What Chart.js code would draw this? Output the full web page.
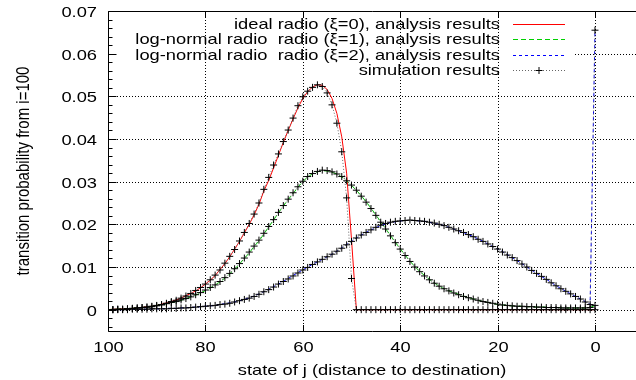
<!DOCTYPE html>
<html>
<head>
<meta charset="utf-8">
<script src="https://cdn.jsdelivr.net/npm/chart.js@4.4.1/dist/chart.umd.min.js"></script>
<style>
	html, body { margin: 0; padding: 0; overflow: hidden; background: #fff; }
	canvas { display: block; }
</style>
</head>
<body>
<canvas id="chart" width="636" height="380"></canvas>
<script>
'use strict'

// state j, from 100 down to 0
const states = [
	100, 99, 98, 97, 96, 95, 94, 93, 92, 91,
	90, 89, 88, 87, 86, 85, 84, 83, 82, 81,
	80, 79, 78, 77, 76, 75, 74, 73, 72, 71,
	70, 69, 68, 67, 66, 65, 64, 63, 62, 61,
	60, 59, 58, 57, 56, 55, 54, 53, 52, 51,
	50, 49, 48, 47, 46, 45, 44, 43, 42, 41,
	40, 39, 38, 37, 36, 35, 34, 33, 32, 31,
	30, 29, 28, 27, 26, 25, 24, 23, 22, 21,
	20, 19, 18, 17, 16, 15, 14, 13, 12, 11,
	10, 9, 8, 7, 6, 5, 4, 3, 2, 1,
	0,
]

// analysis results
const idealRadio = [
	0.0000, 0.0001, 0.0001, 0.0002, 0.0002, 0.0003, 0.0004, 0.0005, 0.0007, 0.0008,
	0.0010, 0.0013, 0.0016, 0.0019, 0.0023, 0.0027, 0.0033, 0.0038, 0.0044, 0.0051,
	0.0060, 0.0069, 0.0080, 0.0094, 0.0108, 0.0124, 0.0142, 0.0160, 0.0180, 0.0200,
	0.0222, 0.0247, 0.0278, 0.0303, 0.0332, 0.0362, 0.0392, 0.0420, 0.0447, 0.0473,
	0.0495, 0.0511, 0.0522, 0.0527, 0.0526, 0.0516, 0.0495, 0.0460, 0.0405, 0.0320,
	0.0165, 0, 0, 0, 0, 0, 0, 0, 0, 0,
	0, 0, 0, 0, 0, 0, 0, 0, 0, 0,
	0, 0, 0, 0, 0, 0, 0, 0, 0, 0,
	0, 0, 0, 0, 0, 0, 0, 0, 0, 0,
	0, 0, 0, 0, 0, 0, 0, 0, 0, 0,
	0,
]

const logNormal1 = [
	0.0000, 0.0001, 0.0001, 0.0002, 0.0002, 0.0003, 0.0004, 0.0005, 0.0006, 0.0008,
	0.0010, 0.0012, 0.0014, 0.0016, 0.0019, 0.0022, 0.0026, 0.0030, 0.0034, 0.0039,
	0.0045, 0.0051, 0.0058, 0.0065, 0.0074, 0.0084, 0.0095, 0.0107, 0.0120, 0.0133,
	0.0148, 0.0161, 0.0177, 0.0194, 0.0210, 0.0227, 0.0243, 0.0258, 0.0272, 0.0287,
	0.0300, 0.0311, 0.0318, 0.0323, 0.0326, 0.0325, 0.0322, 0.0318, 0.0311, 0.0302,
	0.0291, 0.0280, 0.0267, 0.0253, 0.0238, 0.0222, 0.0206, 0.0190, 0.0174, 0.0158,
	0.0143, 0.0128, 0.0114, 0.0101, 0.0090, 0.0080, 0.0071, 0.0063, 0.0055, 0.0049,
	0.0044, 0.0040, 0.0036, 0.0032, 0.0028, 0.0025, 0.0022, 0.0019, 0.0017, 0.0015,
	0.0012, 0.0011, 0.0010, 0.0009, 0.0008, 0.0008, 0.0007, 0.0007, 0.0006, 0.0006,
	0.0006, 0.0005, 0.0005, 0.0005, 0.0004, 0.0004, 0.0004, 0.0004, 0.0004, 0.0005,
	0.0010,
]

const logNormal2 = [
	0.0000, 0.0000, 0.0000, 0.0000, 0.0001, 0.0001, 0.0001, 0.0001, 0.0001, 0.0002,
	0.0002, 0.0002, 0.0003, 0.0003, 0.0003, 0.0004, 0.0005, 0.0005, 0.0006, 0.0007,
	0.0008, 0.0009, 0.0010, 0.0012, 0.0014, 0.0016, 0.0018, 0.0021, 0.0024, 0.0028,
	0.0032, 0.0037, 0.0042, 0.0048, 0.0054, 0.0060, 0.0066, 0.0073, 0.0080, 0.0087,
	0.0093, 0.0100, 0.0106, 0.0112, 0.0118, 0.0124, 0.0130, 0.0137, 0.0145, 0.0153,
	0.0161, 0.0168, 0.0175, 0.0181, 0.0187, 0.0192, 0.0197, 0.0201, 0.0204, 0.0206,
	0.0208, 0.0209, 0.0209, 0.0209, 0.0208, 0.0207, 0.0205, 0.0202, 0.0200, 0.0197,
	0.0193, 0.0189, 0.0185, 0.0181, 0.0176, 0.0171, 0.0166, 0.0160, 0.0154, 0.0148,
	0.0142, 0.0136, 0.0129, 0.0122, 0.0115, 0.0108, 0.0100, 0.0093, 0.0085, 0.0078,
	0.0071, 0.0064, 0.0056, 0.0050, 0.0043, 0.0037, 0.0031, 0.0025, 0.0019, 0.0012,
	0.0655,
]

// simulation results
const simIdeal = [
	0.0000, 0.0000, 0.0001, 0.0001, 0.0002, 0.0003, 0.0004, 0.0005, 0.0006, 0.0008,
	0.0010, 0.0012, 0.0015, 0.0019, 0.0022, 0.0027, 0.0032, 0.0038, 0.0045, 0.0052,
	0.0060, 0.0070, 0.0081, 0.0093, 0.0109, 0.0125, 0.0141, 0.0161, 0.0181, 0.0202,
	0.0224, 0.0250, 0.0282, 0.0310, 0.0339, 0.0365, 0.0394, 0.0421, 0.0449, 0.0478,
	0.0499, 0.0512, 0.0521, 0.0527, 0.0523, 0.0508, 0.0480, 0.0437, 0.0370, 0.0262,
	0.0073, 0, 0, 0, 0, 0, 0, 0, 0, 0,
	0, 0, 0, 0, 0, 0, 0, 0, 0, 0,
	0, 0, 0, 0, 0, 0, 0, 0, 0, 0,
	0, 0, 0, 0, 0, 0, 0, 0, 0, 0,
	0, 0, 0, 0, 0, 0, 0, 0, 0, 0,
	0,
]

const simLogNormal1 = [
	0.0000, 0.0000, 0.0001, 0.0001, 0.0002, 0.0003, 0.0004, 0.0005, 0.0006, 0.0007,
	0.0009, 0.0011, 0.0014, 0.0017, 0.0019, 0.0023, 0.0026, 0.0030, 0.0035, 0.0040,
	0.0046, 0.0052, 0.0058, 0.0066, 0.0075, 0.0085, 0.0096, 0.0108, 0.0121, 0.0135,
	0.0149, 0.0163, 0.0179, 0.0195, 0.0211, 0.0228, 0.0244, 0.0259, 0.0274, 0.0288,
	0.0301, 0.0312, 0.0319, 0.0324, 0.0327, 0.0326, 0.0323, 0.0318, 0.0312, 0.0302,
	0.0292, 0.0280, 0.0266, 0.0252, 0.0237, 0.0221, 0.0205, 0.0189, 0.0173, 0.0157,
	0.0142, 0.0127, 0.0113, 0.0100, 0.0089, 0.0079, 0.0070, 0.0062, 0.0055, 0.0049,
	0.0044, 0.0039, 0.0035, 0.0031, 0.0028, 0.0025, 0.0022, 0.0019, 0.0017, 0.0015,
	0.0013, 0.0011, 0.0010, 0.0009, 0.0008, 0.0008, 0.0007, 0.0007, 0.0006, 0.0006,
	0.0005, 0.0005, 0.0005, 0.0004, 0.0004, 0.0004, 0.0004, 0.0004, 0.0004, 0.0005,
	0.0010,
]

const simLogNormal2 = [
	0.0000, 0.0000, 0.0000, 0.0000, 0.0000, 0.0001, 0.0001, 0.0001, 0.0001, 0.0002,
	0.0002, 0.0002, 0.0002, 0.0003, 0.0003, 0.0004, 0.0004, 0.0005, 0.0006, 0.0007,
	0.0008, 0.0009, 0.0010, 0.0012, 0.0013, 0.0015, 0.0018, 0.0021, 0.0024, 0.0027,
	0.0031, 0.0036, 0.0042, 0.0047, 0.0053, 0.0060, 0.0066, 0.0072, 0.0079, 0.0086,
	0.0093, 0.0099, 0.0106, 0.0112, 0.0118, 0.0124, 0.0130, 0.0137, 0.0144, 0.0152,
	0.0160, 0.0168, 0.0175, 0.0181, 0.0187, 0.0193, 0.0198, 0.0202, 0.0205, 0.0207,
	0.0208, 0.0209, 0.0210, 0.0209, 0.0208, 0.0207, 0.0205, 0.0203, 0.0200, 0.0197,
	0.0193, 0.0189, 0.0185, 0.0181, 0.0176, 0.0171, 0.0165, 0.0160, 0.0154, 0.0148,
	0.0142, 0.0135, 0.0128, 0.0122, 0.0115, 0.0107, 0.0100, 0.0092, 0.0085, 0.0078,
	0.0071, 0.0063, 0.0056, 0.0049, 0.0043, 0.0037, 0.0031, 0.0025, 0.0018, 0.0012,
	0.0655,
]

const xTicks = [100, 80, 60, 40, 20, 0]
const xTickLabels = ['100', '80', '60', '40', '20', '0']
const yTicks = [0, 0.01, 0.02, 0.03, 0.04, 0.05, 0.06, 0.07]
const yTickLabels = ['0', '0.01', '0.02', '0.03', '0.04', '0.05', '0.06', '0.07']
const yMinorPerMajor = 5

const xTitle = 'state of j (distance to destination)'
const yTitle = 'transition probability from i=100'
const labels = [
	'ideal radio (ξ=0), analysis results',
	'log-normal radio  radio (ξ=1), analysis results',
	'log-normal radio  radio (ξ=2), analysis results',
	'simulation results',
]

const COLORS = ['#ff0000', '#00d000', '#0000ff', '#000000']
const DASHES = [[], [5, 3], [3, 3], [1, 2]]
const SX = 1.22
const FONT = '15px "Liberation Sans", Arial, sans-serif'
const KEY = { textRight: 500, sampleLeft: 513, sampleRight: 565, firstBase: 29.3, step: 15.1, top: 16, bottom: 78, right: 575 }

function toPoints(series) {
	return series.map((v, i) => ({ x: states[i], y: v }))
}

function line(ctx, x1, y1, x2, y2) {
	ctx.beginPath()
	ctx.moveTo(x1, y1)
	ctx.lineTo(x2, y2)
	ctx.stroke()
}

function stretchText(ctx, text, x, y, align, rotate) {
	ctx.save()
	ctx.translate(x, y)
	ctx.scale(SX, 1)
	if (rotate) ctx.rotate(-Math.PI / 2)
	ctx.font = FONT
	ctx.fillStyle = '#000'
	ctx.textAlign = align
	ctx.textBaseline = 'alphabetic'
	ctx.fillText(text, 0, 0)
	ctx.restore()
}

const simPoints = [simIdeal, simLogNormal1, simLogNormal2]
	.map(toPoints)
	.reduce((all, pts, i) => (i ? all.concat([{ x: 0, y: null }], pts) : pts), [])

const gnuFrame = {
	id: 'gnuFrame',
	beforeDatasetsDraw(chart) {
		const { ctx, chartArea: a, scales: { x, y } } = chart
		ctx.save()
		ctx.strokeStyle = '#000'
		ctx.lineWidth = 1
		ctx.setLineDash([1, 2])
		xTicks.forEach(v => {
			const px = Math.round(x.getPixelForValue(v)) + 0.5
			if (px <= a.left + 1) return
			line(ctx, px, a.top, px, a.bottom)
		})
		yTicks.forEach(v => {
			const py = Math.round(y.getPixelForValue(v)) + 0.5
			if (py <= a.top + 1) return
			const inKey = py > KEY.top && py < KEY.bottom
			line(ctx, inKey ? KEY.right : a.left, py, a.right, py)
		})
		ctx.restore()
	},
	afterDatasetsDraw(chart) {
		const { ctx, chartArea: a, scales: { x, y } } = chart
		ctx.save()
		ctx.strokeStyle = '#000'
		ctx.lineWidth = 1
		ctx.setLineDash([])
		const L = Math.round(a.left) + 0.5
		const T = Math.round(a.top) + 0.5
		const B = Math.round(a.bottom) + 0.5
		const R = a.right
		line(ctx, L, T, R, T)
		line(ctx, L, B, R, B)
		line(ctx, L, T, L, B)

		xTicks.forEach((v, i) => {
			const px = Math.round(x.getPixelForValue(v)) + 0.5
			line(ctx, px, B, px, B - 6.5)
			line(ctx, px, T, px, T + 6.5)
			stretchText(ctx, xTickLabels[i], px, a.bottom + 21, 'center')
		})
		yTicks.forEach((v, i) => {
			const py = Math.round(y.getPixelForValue(v)) + 0.5
			line(ctx, L, py, L + 8, py)
			stretchText(ctx, yTickLabels[i], a.left - 11, py + 5.5, 'right')
		})
		const minorStep = (yTicks[1] - yTicks[0]) / yMinorPerMajor
		for (let v = y.min; v < y.max; v += minorStep / 2) {
			const k = Math.round(v / minorStep)
			if (Math.abs(v - k * minorStep) > 1e-9 || k % yMinorPerMajor === 0) continue
			const py = Math.round(y.getPixelForValue(k * minorStep)) + 0.5
			if (py > B || py < T) continue
			line(ctx, L, py, L + 4, py)
		}

		stretchText(ctx, xTitle, (a.left + a.right) / 2, 375, 'center')
		stretchText(ctx, yTitle, 29, (a.top + a.bottom) / 2, 'center', true)

		labels.forEach((text, i) => {
			const base = KEY.firstBase + i * KEY.step
			const ly = Math.round(base - 5) + 0.5
			stretchText(ctx, text, KEY.textRight, base, 'right')
			ctx.strokeStyle = i === 3 ? '#666' : COLORS[i]
			ctx.setLineDash(DASHES[i])
			line(ctx, KEY.sampleLeft, ly, KEY.sampleRight, ly)
			if (i === 3) {
				const cx = (KEY.sampleLeft + KEY.sampleRight) / 2
				ctx.setLineDash([])
				ctx.strokeStyle = '#000'
				line(ctx, cx - 3.5, ly, cx + 3.5, ly)
				line(ctx, cx, ly - 3.5, cx, ly + 3.5)
			}
		})
		ctx.restore()
	},
}

function analysisSet(label, series, idx) {
	return {
		label,
		data: toPoints(series),
		borderColor: COLORS[idx],
		borderWidth: 1,
		borderDash: DASHES[idx],
		pointRadius: 0,
		tension: 0,
		fill: false,
	}
}

new Chart(document.getElementById('chart'), {
	type: 'line',
	data: {
		datasets: [
			{
				label: labels[3],
				data: simPoints,
				borderColor: '#666',
				borderWidth: 1,
				borderDash: DASHES[3],
				pointStyle: 'cross',
				pointRadius: 3.5,
				pointBorderColor: '#000',
				pointBorderWidth: 1,
				spanGaps: false,
				tension: 0,
				fill: false,
			},
			analysisSet(labels[2], logNormal2, 2),
			analysisSet(labels[1], logNormal1, 1),
			analysisSet(labels[0], idealRadio, 0),
		],
	},
	options: {
		responsive: false,
		animation: false,
		events: [],
		layout: { autoPadding: false, padding: { top: 11, left: 0, right: 0, bottom: 0 } },
		plugins: { legend: { display: false }, tooltip: { enabled: false } },
		scales: {
			x: {
				type: 'linear',
				reverse: true,
				min: -8.42,
				max: 100,
				grid: { display: false },
				border: { display: false },
				ticks: { display: false },
				afterFit: s => { s.height = 49 },
			},
			y: {
				type: 'linear',
				min: -0.005,
				max: 0.07,
				grid: { display: false },
				border: { display: false },
				ticks: { display: false },
				afterFit: s => { s.width = 108 },
			},
		},
	},
	plugins: [gnuFrame],
})
</script>
</body>
</html>
